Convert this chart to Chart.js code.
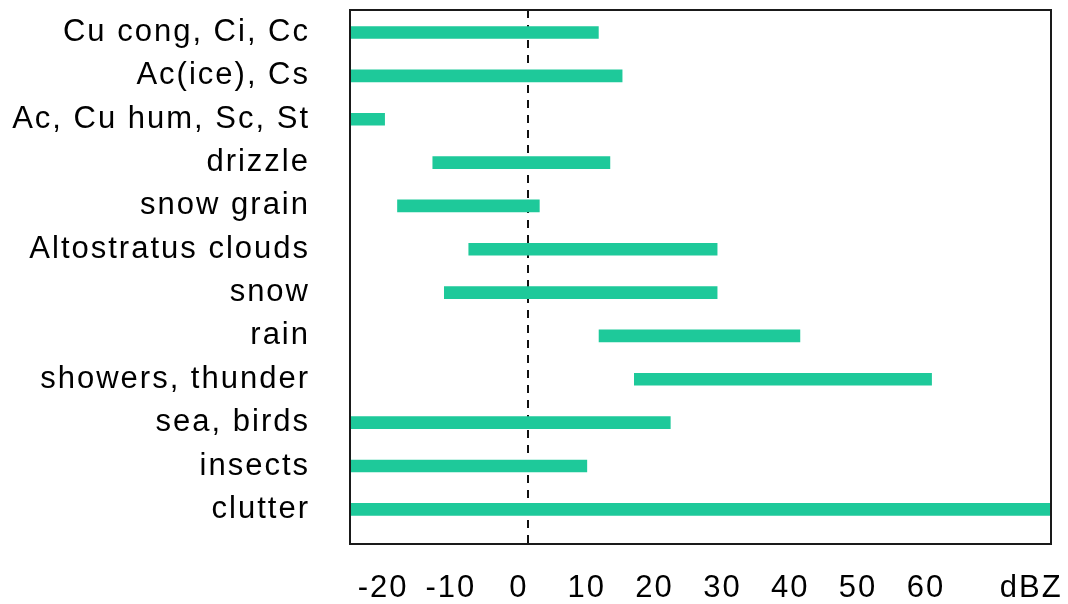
<!DOCTYPE html>
<html><head><meta charset="utf-8">
<script src="https://cdn.jsdelivr.net/npm/chart.js@4.4.1/dist/chart.umd.min.js"></script>
<style>html,body{margin:0;padding:0;background:#fff;overflow:hidden;}</style>
</head><body>
<canvas id="c" width="1068" height="604"></canvas>
<script>
const categories = ['Cu cong, Ci, Cc','Ac(ice), Cs','Ac, Cu hum, Sc, St','drizzle','snow grain','Altostratus clouds','snow','rain','showers, thunder','sea, birds','insects','clutter'];
const rangeStart = [-30, -30, -30, -14.0, -19.2, -8.7, -12.3, 10.5, 15.7, -30, -30, -30];
const rangeEnd   = [10.4, 13.9, -21.1, 12.1, 1.7, 27.9, 27.9, 40.1, 59.5, 21.0, 8.7, 80];
const xTickValues = [-20, -10, 0, 10, 20, 30, 40, 50, 60];
const unitLabel = 'dBZ';
const unitTickValue = 75.5;
const xMin = -26.2, xMax = 77.1;
const yMin = -0.52, yMax = 11.8;

const FONT = {family: "'Liberation Sans', Arial, sans-serif", size: 31, weight: 'normal', lineHeight: 1.2};
const SPACING = '2px';

const spacingPlugin = {
  id: 'spacing',
  beforeLayout(chart){ chart.ctx.letterSpacing = SPACING; },
  beforeDraw(chart){ chart.ctx.letterSpacing = SPACING; }
};
const framePlugin = {
  id: 'frame',
  afterDraw(chart){
    const {ctx, chartArea: a} = chart;
    ctx.save();
    ctx.strokeStyle = '#1a1a1a';
    ctx.lineWidth = 2;
    ctx.strokeRect(a.left, a.top, a.right - a.left, a.bottom - a.top);
    ctx.restore();
  }
};

new Chart(document.getElementById('c'), {
  type: 'bar',
  data: {
    datasets: [{
      data: categories.map((c, i) => ({y: i, x: [rangeStart[i], rangeEnd[i]]})),
      backgroundColor: '#1ec99a',
      borderWidth: 0,
      barThickness: 12,
      clip: 0
    }]
  },
  options: {
    indexAxis: 'y',
    responsive: false,
    animation: false,
    devicePixelRatio: 1,
    layout: {padding: {top: 10, right: 17, left: 0, bottom: 0}},
    plugins: {legend: {display: false}, tooltip: {enabled: false}},
    scales: {
      x: {
        type: 'linear',
        position: 'bottom',
        offset: false,
        min: xMin, max: xMax,
        afterBuildTicks(scale){ scale.ticks = xTickValues.concat([unitTickValue]).map(v => ({value: v})); },
        afterFit(scale){ scale.height = 60; scale.paddingLeft = 0; scale.paddingRight = 0; },
        ticks: {
          autoSkip: false, maxRotation: 0, minRotation: 0,
          padding: 26, labelOffset: -9,
          color: '#000', font: FONT,
          callback: (v) => v === unitTickValue ? unitLabel : String(v)
        },
        grid: {
          offset: false,
          drawTicks: false,
          color: (ctx) => (ctx.tick && ctx.tick.value === 0) ? '#111' : 'rgba(0,0,0,0)',
          lineWidth: 2
        },
        border: {display: false, dash: [8, 7]}
      },
      y: {
        type: 'linear',
        position: 'left',
        offset: false,
        reverse: true,
        min: yMin, max: yMax,
        afterBuildTicks(scale){ scale.ticks = categories.map((c, i) => ({value: i})); },
        afterFit(scale){ scale.width = 350; scale.paddingTop = 0; scale.paddingBottom = 0; },
        ticks: {
          autoSkip: false, padding: 40,
          color: '#000', font: FONT,
          callback: (v) => categories[v]
        },
        grid: {display: false, drawTicks: false, offset: false},
        border: {display: false}
      }
    }
  },
  plugins: [spacingPlugin, framePlugin]
});
</script>
</body></html>
